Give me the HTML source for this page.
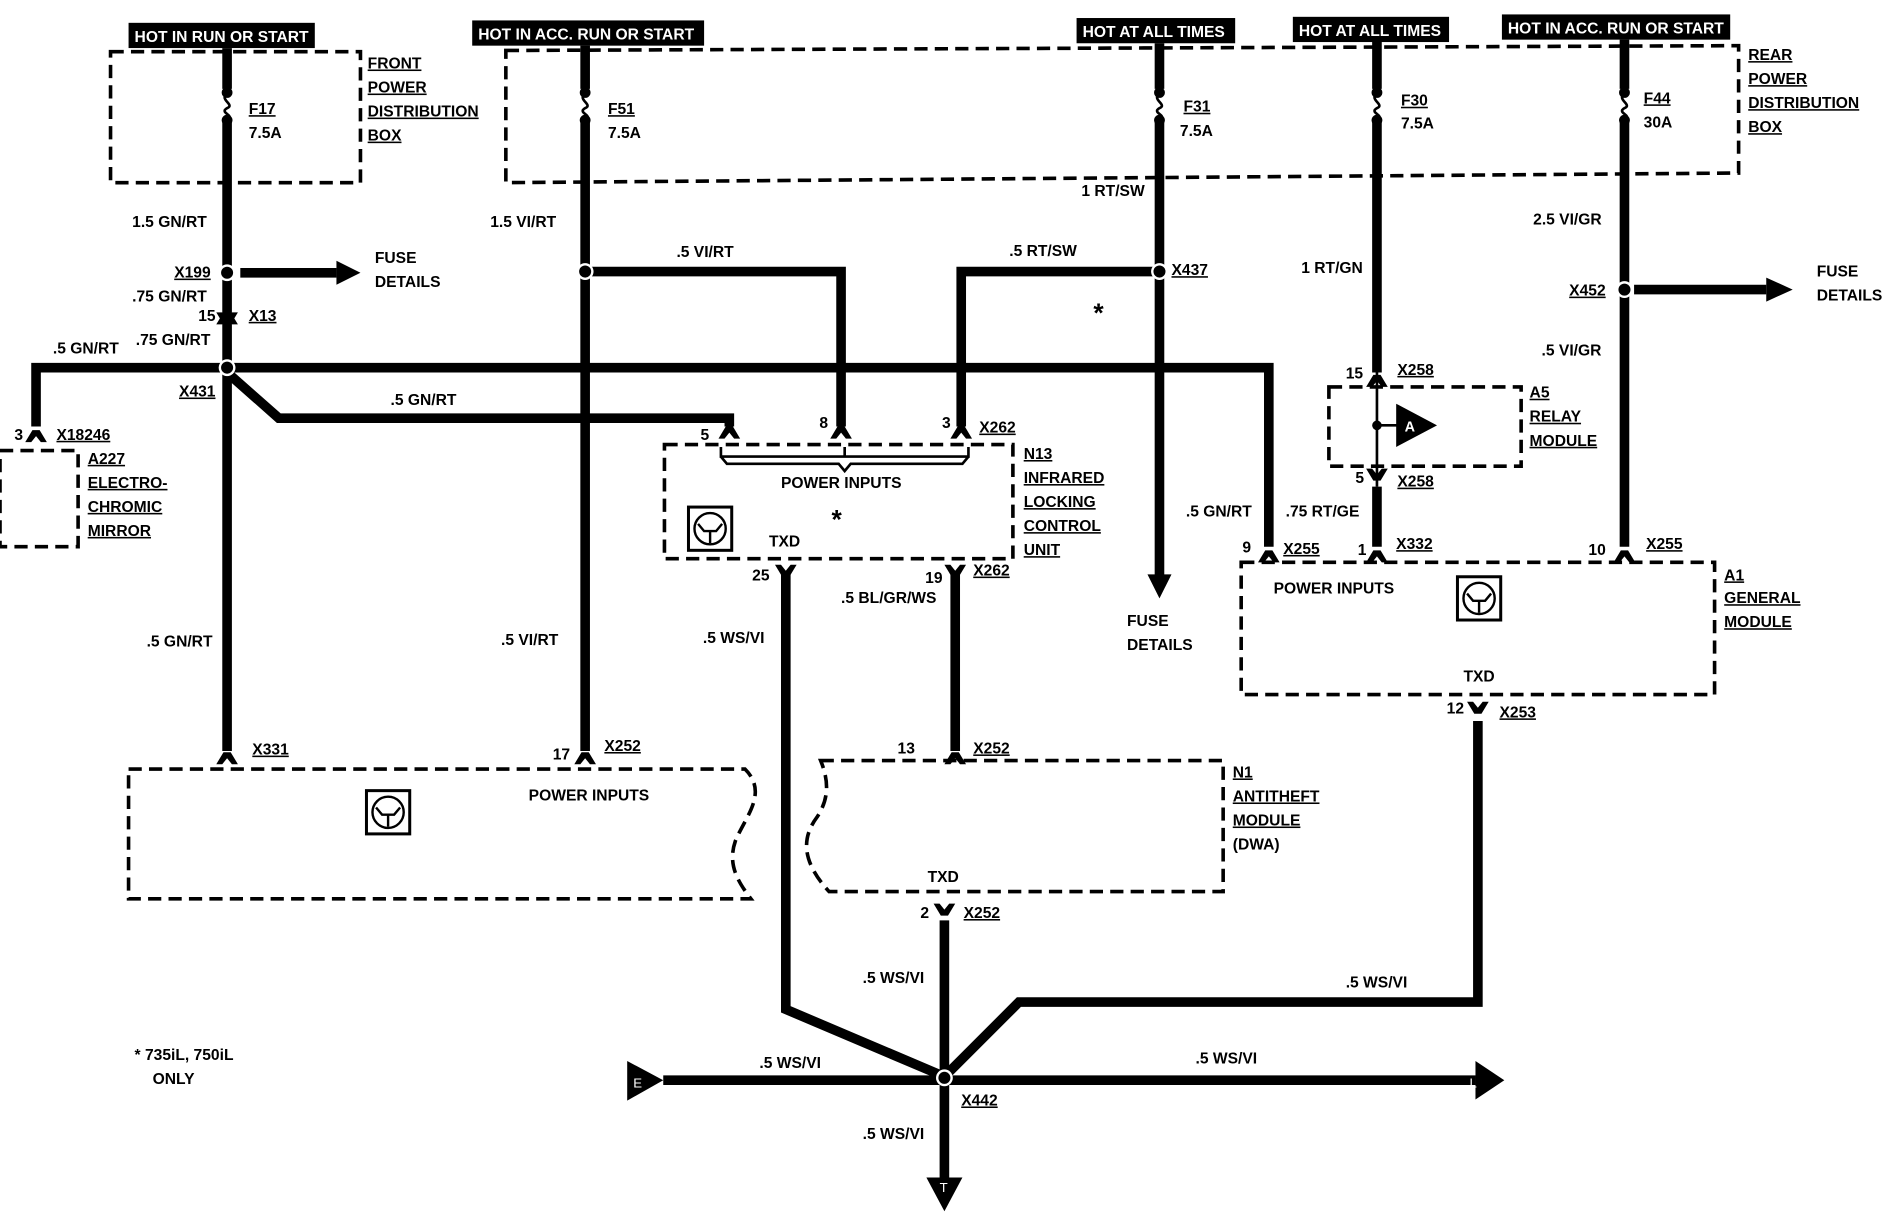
<!DOCTYPE html>
<html><head><meta charset="utf-8"><style>
html,body{margin:0;padding:0;background:#fff;}
svg{display:block;}
text{font-family:"Liberation Sans",sans-serif;font-weight:bold;font-size:13px;fill:#000;}
.w{fill:#fff;}
.u{text-decoration:underline;}
</style></head><body>
<svg width="1884" height="1216" viewBox="0 0 1568 1012" preserveAspectRatio="none" xmlns="http://www.w3.org/2000/svg">
<defs>
<g id="pinU"><path d="M-9,8 L-3,-2 L3,-2 L9,8 L4,8 L0,3 L-4,8 Z" fill="#000"/></g>
<g id="pinD"><path d="M-9,-8 L-3,2 L3,2 L9,-8 L4,-8 L0,-3 L-4,-8 Z" fill="#000"/></g>
<g id="tr"><rect x="0" y="0" width="36" height="36" fill="#fff" stroke="#000" stroke-width="2.5"/><circle cx="18" cy="18" r="13" fill="none" stroke="#000" stroke-width="2"/><path d="M8,14 L13,20 L23,20 L28,14 M18,20 L18,30" fill="none" stroke="#000" stroke-width="2"/></g>
<g id="jn"><circle r="7" fill="#fff"/><circle r="5" fill="#000"/></g>
</defs>
<g fill="none" stroke="#000" stroke-width="3" stroke-dasharray="11,6">
<rect x="92" y="43" width="208" height="109"/>
<path d="M421,42 L1447,38 L1447,144 L421,152 Z"/>
<rect x="0" y="375" width="65" height="80"/>
<rect x="553" y="370" width="290" height="95"/>
<rect x="1106" y="322" width="160" height="66"/>
<rect x="1033" y="468" width="394" height="110"/>
<path d="M107,640 L620,640 C640,660 620,680 612,700 C605,720 615,735 625,748 L107,748 Z"/>
<path d="M683,633 L1018,633 L1018,742 L690,742 C670,720 665,700 680,680 C690,665 690,650 683,633 Z"/>
</g>
<g fill="none" stroke="#000" stroke-width="8">
<path d="M189,40 L189,74 M189,102 L189,625"/>
<path d="M487,38 L487,74 M487,102 L487,625"/>
<path d="M965,36 L965,74 M965,102 L965,482"/>
<path d="M1146,35 L1146,74 M1146,102 L1146,310 M1146,405 L1146,455"/>
<path d="M1352,33 L1352,74 M1352,102 L1352,455"/>
<path d="M30,355 L30,306 L1056,306 L1056,455"/>
<path d="M189,310 L232,348 L607,348 L607,355"/>
<path d="M487,226 L700,226 L700,355"/>
<path d="M965,226 L800,226 L800,355"/>
<path d="M200,227 L280,227"/>
<path d="M1360,241 L1470,241"/>
<path d="M654,478 L654,840 L786,896"/>
<path d="M795,478 L795,625"/>
<path d="M786,766 L786,985"/>
<path d="M1230,600 L1230,834 L848,834 L786,896"/>
<path d="M552,899 L1228,899"/>
</g>
<g fill="none" stroke="#000" stroke-width="2.2">
<path d="M189,78 C182,83 196,87 189,90 C182,94 196,96 189,99"/>
<path d="M487,78 C480,83 494,87 487,90 C480,94 494,96 487,99"/>
<path d="M965,78 C958,83 972,87 965,90 C958,94 972,96 965,99"/>
<path d="M1146,78 C1139,83 1153,87 1146,90 C1139,94 1153,96 1146,99"/>
<path d="M1352,78 C1345,83 1359,87 1352,90 C1345,94 1359,96 1352,99"/>
<path d="M1146,310 L1146,405 M1146,354 L1165,354"/>
<path d="M600,372 L600,380 L703,380 L806,380 L806,372 M703,372 L703,380 M600,380 L605,386 L698,386 L703,392 L708,386 L801,386 L806,380"/>
</g>
<g fill="#000">
<circle cx="189" cy="77" r="4.5"/><circle cx="189" cy="100" r="4.5"/>
<circle cx="487" cy="77" r="4.5"/><circle cx="487" cy="100" r="4.5"/>
<circle cx="965" cy="77" r="4.5"/><circle cx="965" cy="100" r="4.5"/>
<circle cx="1146" cy="77" r="4.5"/><circle cx="1146" cy="100" r="4.5"/>
<circle cx="1352" cy="77" r="4.5"/><circle cx="1352" cy="100" r="4.5"/>
<circle cx="1146" cy="354" r="4"/>
<path d="M1162,336 L1196,354 L1162,372 Z"/>
<path d="M280,217 L300,227 L280,237 Z"/>
<path d="M1470,231 L1492,241 L1470,251 Z"/>
<path d="M955,478 L965,498 L975,478 Z"/>
<path d="M522,883 L552,899 L522,916 Z"/>
<path d="M1228,883 L1252,899 L1228,915 Z"/>
<path d="M771,980 L786,1008 L801,980 Z"/>
<rect x="107" y="19" width="155" height="21"/>
<rect x="393" y="17" width="193" height="21"/>
<rect x="896" y="15" width="132" height="21"/>
<rect x="1076" y="14" width="130" height="21"/>
<rect x="1250" y="12" width="190" height="21"/>
</g>
<use href="#jn" x="189" y="227"/><use href="#jn" x="189" y="306"/><use href="#jn" x="487" y="226"/>
<use href="#jn" x="965" y="226"/><use href="#jn" x="1352" y="241"/><use href="#jn" x="786" y="897"/>
<use href="#pinU" x="189" y="262"/><use href="#pinD" x="189" y="268"/>
<use href="#pinU" x="30" y="360"/>
<use href="#pinU" x="607" y="357"/><use href="#pinU" x="700" y="357"/><use href="#pinU" x="800" y="357"/>
<use href="#pinD" x="654" y="478"/><use href="#pinD" x="795" y="478"/>
<use href="#pinU" x="189" y="628"/><use href="#pinU" x="487" y="628"/><use href="#pinU" x="795" y="628"/>
<use href="#pinD" x="786" y="760"/>
<use href="#pinU" x="1146" y="314"/><use href="#pinD" x="1146" y="398"/>
<use href="#pinU" x="1056" y="460"/><use href="#pinU" x="1146" y="460"/><use href="#pinU" x="1352" y="460"/>
<use href="#pinD" x="1230" y="592"/>
<use href="#tr" x="573" y="422"/><use href="#tr" x="305" y="658"/><use href="#tr" x="1213" y="480"/>
<g class="w" style="font-size:12px">
<text class="w" x="112" y="35">HOT IN RUN OR START</text>
<text class="w" x="398" y="33">HOT IN ACC. RUN OR START</text>
<text class="w" x="901" y="31">HOT AT ALL TIMES</text>
<text class="w" x="1081" y="30">HOT AT ALL TIMES</text>
<text class="w" x="1255" y="28">HOT IN ACC. RUN OR START</text>
</g>
<g>
<text class="u" x="306" y="57">FRONT</text><text class="u" x="306" y="77">POWER</text><text class="u" x="306" y="97">DISTRIBUTION</text><text class="u" x="306" y="117">BOX</text>
<text class="u" x="1455" y="50">REAR</text><text class="u" x="1455" y="70">POWER</text><text class="u" x="1455" y="90">DISTRIBUTION</text><text class="u" x="1455" y="110">BOX</text>
<text class="u" x="207" y="95">F17</text><text x="207" y="115">7.5A</text>
<text class="u" x="506" y="95">F51</text><text x="506" y="115">7.5A</text>
<text class="u" x="985" y="93">F31</text><text x="982" y="113">7.5A</text>
<text class="u" x="1166" y="88">F30</text><text x="1166" y="107">7.5A</text>
<text class="u" x="1368" y="86">F44</text><text x="1368" y="106">30A</text>
<text x="110" y="189">1.5 GN/RT</text><text x="408" y="189">1.5 VI/RT</text>
<text x="900" y="163">1 RT/SW</text><text x="1083" y="227">1 RT/GN</text><text x="1276" y="187">2.5 VI/GR</text>
<text class="u" x="145" y="231">X199</text><text x="312" y="219">FUSE</text><text x="312" y="239">DETAILS</text>
<text x="110" y="251">.75 GN/RT</text><text x="165" y="267">15</text><text class="u" x="207" y="267">X13</text>
<text x="113" y="287">.75 GN/RT</text><text x="44" y="294">.5 GN/RT</text>
<text class="u" x="149" y="330">X431</text>
<text x="12" y="366">3</text><text class="u" x="47" y="366">X18246</text>
<text class="u" x="73" y="386">A227</text><text class="u" x="73" y="406">ELECTRO-</text><text class="u" x="73" y="426">CHROMIC</text><text class="u" x="73" y="446">MIRROR</text>
<text x="563" y="214">.5 VI/RT</text><text x="840" y="213">.5 RT/SW</text>
<text class="u" x="975" y="229">X437</text><text x="910" y="268" style="font-size:22px">*</text>
<text x="325" y="337">.5 GN/RT</text>
<text x="583" y="366">5</text><text x="682" y="356">8</text><text x="784" y="356">3</text><text class="u" x="815" y="360">X262</text>
<text x="650" y="406">POWER INPUTS</text><text x="692" y="440" style="font-size:22px">*</text><text x="640" y="455">TXD</text>
<text class="u" x="852" y="382">N13</text><text class="u" x="852" y="402">INFRARED</text><text class="u" x="852" y="422">LOCKING</text><text class="u" x="852" y="442">CONTROL</text><text class="u" x="852" y="462">UNIT</text>
<text x="626" y="483">25</text><text x="770" y="485">19</text><text class="u" x="810" y="479">X262</text>
<text x="700" y="502">.5 BL/GR/WS</text><text x="585" y="535">.5 WS/VI</text>
<text x="122" y="538">.5 GN/RT</text><text x="417" y="537">.5 VI/RT</text>
<text x="938" y="521">FUSE</text><text x="938" y="541">DETAILS</text>
<text class="u" x="1306" y="246">X452</text><text x="1512" y="230">FUSE</text><text x="1512" y="250">DETAILS</text>
<text x="1283" y="296">.5 VI/GR</text>
<text x="1120" y="315">15</text><text class="u" x="1163" y="312">X258</text>
<text x="1169" y="359" class="w" style="font-size:12px">A</text>
<text class="u" x="1273" y="331">A5</text><text class="u" x="1273" y="351">RELAY</text><text class="u" x="1273" y="371">MODULE</text>
<text x="1128" y="402">5</text><text class="u" x="1163" y="405">X258</text>
<text x="1070" y="430">.75 RT/GE</text><text x="987" y="430">.5 GN/RT</text>
<text x="1034" y="460">9</text><text class="u" x="1068" y="461">X255</text>
<text x="1130" y="462">1</text><text class="u" x="1162" y="457">X332</text>
<text x="1322" y="462">10</text><text class="u" x="1370" y="457">X255</text>
<text x="1060" y="494">POWER INPUTS</text><text x="1218" y="567">TXD</text>
<text class="u" x="1435" y="483">A1</text><text class="u" x="1435" y="502">GENERAL</text><text class="u" x="1435" y="522">MODULE</text>
<text x="1204" y="594">12</text><text class="u" x="1248" y="597">X253</text>
<text class="u" x="210" y="628">X331</text><text x="460" y="632">17</text><text class="u" x="503" y="625">X252</text>
<text x="747" y="627">13</text><text class="u" x="810" y="627">X252</text>
<text x="440" y="666">POWER INPUTS</text>
<text class="u" x="1026" y="647">N1</text><text class="u" x="1026" y="667">ANTITHEFT</text><text class="u" x="1026" y="687">MODULE</text><text x="1026" y="707">(DWA)</text>
<text x="772" y="734">TXD</text><text x="766" y="764">2</text><text class="u" x="802" y="764">X252</text>
<text x="718" y="818">.5 WS/VI</text><text x="1120" y="822">.5 WS/VI</text>
<text x="632" y="889">.5 WS/VI</text><text x="995" y="885">.5 WS/VI</text>
<text class="u" x="800" y="920">X442</text><text x="718" y="948">.5 WS/VI</text>
<text x="527" y="905" class="w" style="font-size:11px;font-weight:normal">E</text>
<text x="1223" y="905" class="w" style="font-size:11px;font-weight:normal">L</text>
<text x="782" y="992" class="w" style="font-size:11px;font-weight:normal">T</text>
<text x="112" y="882">* 735iL, 750iL</text><text x="127" y="902">ONLY</text>
</g>
</svg>
</body></html>
